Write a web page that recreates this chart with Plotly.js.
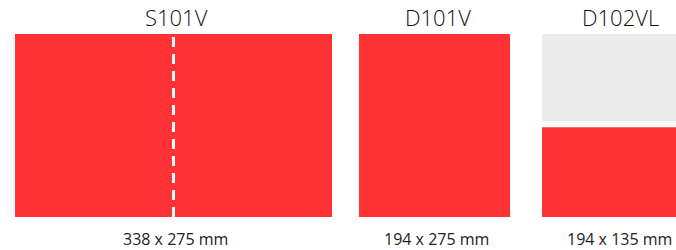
<!DOCTYPE html>
<html><head><meta charset="utf-8">
<script src="https://cdn.plot.ly/plotly-3.0.1.min.js"></script>
<style>html,body{margin:0;padding:0;background:#fff}#c{width:676px;height:250px}</style>
</head><body><div id="c"></div>
<script>
// Data
const products = ["S101V", "D101V", "D102VL"];
const widthsMm = [338, 194, 194];
const heightsMm = [275, 275, 135];
const sizeLabels = ["338 x 275 mm", "194 x 275 mm", "194 x 135 mm"];
const spareHeightMm = [0, 0, 275]; // grey upper panel on D102VL

// Layout (display positions in px along x)
const centers = [173.5, 434.5, 617.5];
const drawW = [317, 151, 151];
const gapMm = 9;
const k = 183 / 275; // px per mm vertically
const yTop = 275 + 34 / k, yBot = -(33 / k);

const red = '#FF3335', grey = '#EBEBEB';

const traces = [
  {type: 'bar', x: centers, y: heightsMm, base: [0,0,0], width: drawW,
   marker: {color: red, line: {width: 0}}, hoverinfo: 'skip'},
  {type: 'bar', x: [centers[2]], y: [spareHeightMm[2] - heightsMm[2] - gapMm],
   base: [heightsMm[2] + gapMm], width: [drawW[2]],
   marker: {color: grey, line: {width: 0}}, hoverinfo: 'skip'}
];

const annotations = [];
products.forEach((p, i) => {
  annotations.push({x: centers[i] + 3, y: yTop - 17 / k, xref: 'x', yref: 'y', text: p, showarrow: false,
    font: {family: 'Open Sans', size: 22, color: '#111', weight: 300}});
  annotations.push({x: centers[i] + 2, y: yBot + 11 / k, xref: 'x', yref: 'y', text: sizeLabels[i], showarrow: false,
    font: {family: 'Open Sans', size: 16, color: '#222'}});
});

const layout = {
  width: 676, height: 250, margin: {l: 0, r: 0, t: 0, b: 0},
  paper_bgcolor: '#fff', plot_bgcolor: '#fff', showlegend: false, barmode: 'overlay',
  xaxis: {range: [0, 676], visible: false, fixedrange: true},
  yaxis: {range: [yBot, yTop], visible: false, fixedrange: true},
  annotations: annotations,
  shapes: [{type: 'line', xref: 'x', yref: 'y', x0: centers[0], x1: centers[0], y0: 0, y1: heightsMm[0],
    line: {color: '#fff', width: 3, dash: '10px,7px'}}]
};
Plotly.newPlot('c', traces, layout, {staticPlot: true, displayModeBar: false});
</script></body></html>
